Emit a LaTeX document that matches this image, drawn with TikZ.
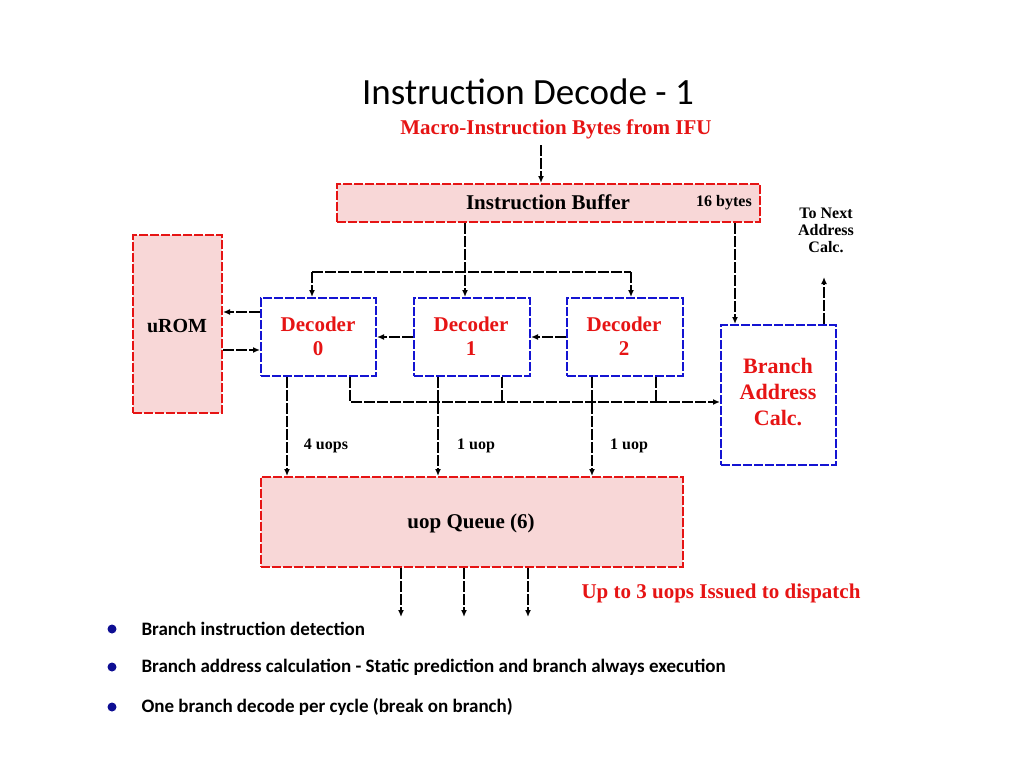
\documentclass[tikz,border=0pt]{standalone}
\usepackage{fontspec}
\setmainfont{Liberation Serif}
\newfontfamily\carlitof{Carlito}
\usetikzlibrary{arrows.meta}
\definecolor{rd}{RGB}{230,20,20}
\definecolor{bl}{RGB}{20,20,210}
\definecolor{pk}{RGB}{248,215,215}
\begin{document}
\begin{tikzpicture}[x=1pt,y=-1pt,
  wire/.style={line width=2.2pt,dash pattern=on 11pt off 2pt,-{Latex[length=7pt,width=6pt]}},
  plain/.style={line width=2.2pt,dash pattern=on 11pt off 2pt},
  redbox/.style={draw=rd,line width=2pt,dash pattern=on 9pt off 2pt,fill=pk,inner sep=0},
  bluebox/.style={draw=bl,line width=2pt,dash pattern=on 9pt off 2pt,inner sep=0},
  lbl/.style={font=\bfseries\fontsize{18}{20}\selectfont},
  rlbl/.style={font=\bfseries\fontsize{21}{24}\selectfont,text=rd,align=center},
  bul/.style={font=\carlitof\bfseries\fontsize{19}{22}\selectfont,anchor=west}]
\useasboundingbox (0,0) rectangle (1024,768);
\node (title) at (528,92) {\carlitof\fontsize{37}{40}\selectfont Instruction Decode - 1};
\node[rlbl] (macro) at (556,129) {Macro-Instruction Bytes from IFU};
\node[redbox,minimum width=423,minimum height=38] (ib) at (548.5,203) {};
\node[lbl,font=\bfseries\fontsize{21}{24}\selectfont] (ibt) at (548,202) {Instruction Buffer};
\node[lbl,font=\bfseries\fontsize{16}{18}\selectfont] (ibb) at (724,203) {16 bytes};
\node[redbox,minimum width=89,minimum height=178] (urom) at (177.5,324) {};
\node[lbl,font=\bfseries\fontsize{20}{22}\selectfont] (uromt) at (177,326) {uROM};
\node[bluebox,minimum width=115,minimum height=78] (d0) at (318.5,337) {};
\node[bluebox,minimum width=116,minimum height=78] (d1) at (472,337) {};
\node[bluebox,minimum width=116,minimum height=78] (d2) at (625,337) {};
\node[rlbl] at (318,336) {Decoder\\0};
\node[rlbl] at (471,336) {Decoder\\1};
\node[rlbl] at (624,336) {Decoder\\2};
\node[bluebox,minimum width=115,minimum height=140] (bac) at (778.5,395) {};
\node[rlbl,font=\bfseries\fontsize{22}{26}\selectfont] at (778,392) {Branch\\Address\\Calc.};
\node[font=\bfseries\fontsize{16}{17}\selectfont,align=center] (tonext) at (826,230) {To Next\\Address\\Calc.};
\node[redbox,minimum width=422,minimum height=90] (q) at (472,522) {};
\node[lbl,font=\bfseries\fontsize{21}{24}\selectfont] at (471,523) {uop Queue (6)};
\node[rlbl] (up) at (721,593) {Up to 3 uops Issued to dispatch};
% helper coordinates
\coordinate (m1) at (541,145);
\coordinate (xa) at (541,0);
\coordinate (xb) at (465,0);
\coordinate (h1) at (312,272);
\coordinate (h2) at (631,272);
\coordinate (xc) at (735,0);
\coordinate (xd) at (824,0);
\coordinate (tn) at (824,277);
\coordinate (ya) at (0,312);
\coordinate (yb) at (0,350);
\coordinate (c0) at (350,402);
\coordinate (c1) at (502,402);
\coordinate (c2) at (656,402);
\coordinate (x0) at (350,0);
\coordinate (x1) at (502,0);
\coordinate (x2) at (656,0);
\coordinate (u0) at (287,0);
\coordinate (u1) at (438,0);
\coordinate (u2) at (592,0);
% connectors
\draw[wire] (m1) -- (xa|-ib.north);
\draw[wire] (xb|-ib.south) -- (xb|-d1.north);
\draw[plain] (h1) -- (h2);
\draw[wire] (h1) -- (h1|-d0.north);
\draw[wire] (h2) -- (h2|-d2.north);
\draw[wire] (xc|-ib.south) -- (xc|-bac.north);
\draw[wire] (xd|-bac.north) -- (tn);
\draw[wire] (d0.west|-ya) -- (urom.east|-ya);
\draw[wire] (urom.east|-yb) -- (d0.west|-yb);
\draw[wire] (d1.west) -- (d0.east);
\draw[wire] (d2.west) -- (d1.east);
\draw[plain] (x0|-d0.south) -- (c0) -- (c2);
\draw[plain] (x1|-d1.south) -- (c1);
\draw[plain] (x2|-d2.south) -- (c2);
\draw[wire] (c2) -- (bac.west|-c2);
\draw[wire] (u0|-d0.south) -- (u0|-q.north);
\draw[wire] (u1|-d1.south) -- (u1|-q.north);
\draw[wire] (u2|-d2.south) -- (u2|-q.north);
\node[font=\bfseries\fontsize{16}{18}\selectfont] at (326,446) {4 uops};
\node[font=\bfseries\fontsize{16}{18}\selectfont] at (476,446) {1 uop};
\node[font=\bfseries\fontsize{16}{18}\selectfont] at (629,446) {1 uop};
\foreach \x in {401,464,528} {
  \coordinate (ox) at (\x,617);
  \draw[wire] (ox|-q.south) -- (ox);}
% bullets
\foreach \y/\t in {629/Branch instruction detection,667/Branch address calculation - Static prediction and branch always execution,707/One branch decode per cycle (break on branch)}{
  \fill[bl!70!black] (112,\y) circle (4.5);
  \node[bul] at (138,\y) {\t};}
\end{tikzpicture}
\end{document}
